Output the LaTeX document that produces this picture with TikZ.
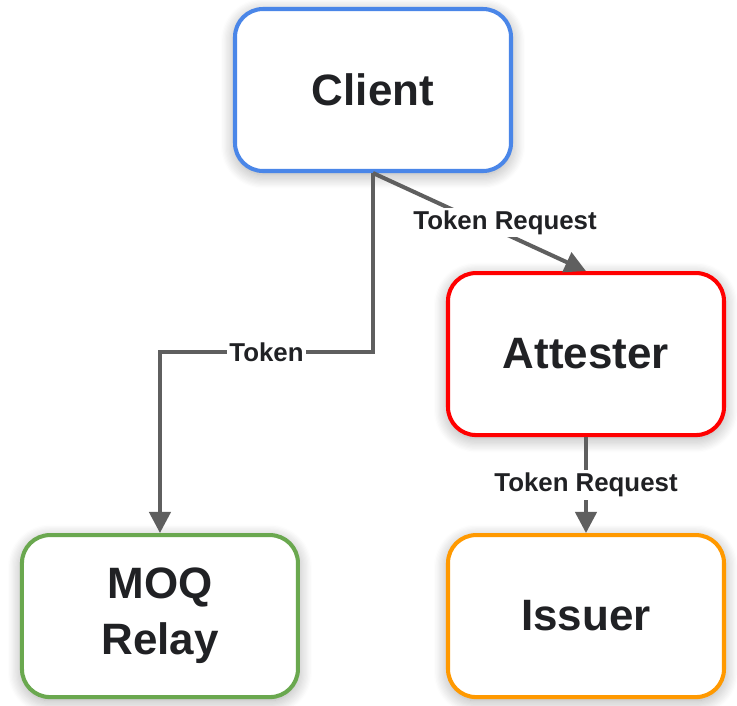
\documentclass[tikz,border=0pt]{standalone}
\usepackage{fontspec}
\setmainfont{Liberation Sans}
\usepackage{tikz}
\usetikzlibrary{positioning, arrows.meta, shadows.blur}
\definecolor{clientBlue}{HTML}{4A86E8}
\definecolor{attesterRed}{HTML}{FF0000}
\definecolor{relayGreen}{HTML}{6AA84F}
\definecolor{issuerOrange}{HTML}{FF9900}
\definecolor{flowGrey}{HTML}{5F5F5F}
\definecolor{inkDark}{HTML}{202124}
\tikzset{
	party/.style={draw=#1, line width=2.3pt, rounded corners=0.56cm, fill=white,
		minimum width=5.52cm, minimum height=3.24cm, align=center, text=inkDark,
		font=\fontsize{25}{32}\selectfont\bfseries,
		blur shadow={shadow xshift=0pt, shadow yshift=-2pt, shadow blur radius=8pt,
			shadow opacity=35, shadow blur steps=12}},
	flow/.style={draw=flowGrey, line width=2.3pt, -{Triangle[length=12pt, width=12pt]}},
	lbl/.style={fill=white, text=inkDark, inner sep=1.5pt,
		font=\fontsize{14.7}{17}\selectfont\bfseries}
}
\begin{document}
\begin{tikzpicture}
					\useasboundingbox (0,0) rectangle (14.74,-14.10);
					\node[party=clientBlue] (client) at (7.46,-1.80) {Client};
					\node[party=attesterRed, below=1.96cm of client, xshift=4.26cm] (attester) {Attester};
					\node[party=issuerOrange, below=1.92cm of attester] (issuer) {Issuer};
					\node[party=relayGreen, left=2.92cm of issuer] (moq) {MOQ\\Relay};

					% token goes back down to the relay
					\draw[flow] (client.south) -- ++(0,-3.58) -| node[lbl, pos=0.25] {Token} (moq.north);
					\draw[flow] (client.south) -- node[lbl, pos=0.62, yshift=0.22cm] {Token Request} (attester.north);
					\draw[flow] (attester.south) -- node[lbl] {Token Request} (issuer.north);
				\end{tikzpicture}
\end{document}
